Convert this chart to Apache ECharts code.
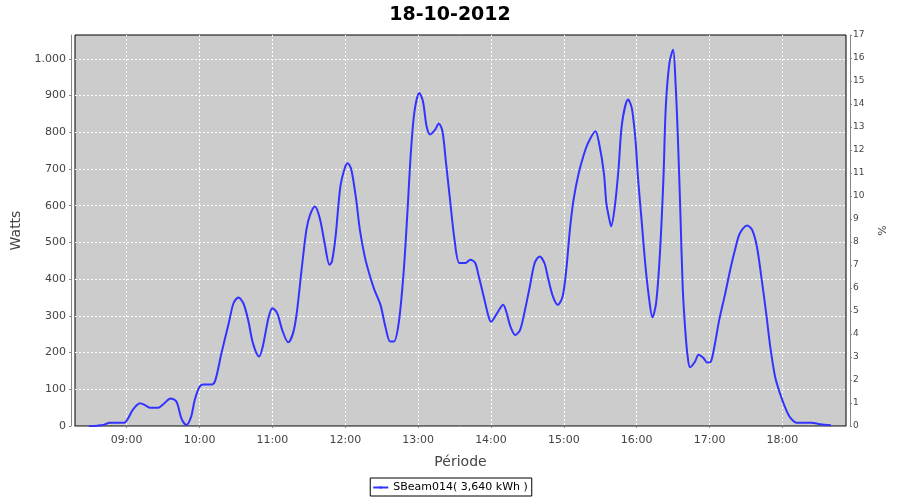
<!DOCTYPE html>
<html>
<head>
<meta charset="utf-8">
<script src="https://cdn.jsdelivr.net/npm/echarts@6/dist/echarts.min.js"></script>
<style>
html,body{margin:0;padding:0;background:#fff;}
#c{width:900px;height:500px;}
</style>
</head>
<body>
<div id="c"></div>
<script>
const titleText = '18-10-2012';
const seriesName = 'SBeam014( 3,640 kWh )';
const times = ['08:29','08:36','08:41','08:46','08:52','08:58','09:01','09:05','09:11','09:15','09:19','09:26','09:31','09:36','09:41','09:45','09:49','09:53','09:56','10:00','10:03','10:10','10:13','10:18','10:24','10:28','10:32','10:36','10:40','10:44','10:49','10:52','10:57','11:00','11:04','11:08','11:13','11:17','11:20','11:24','11:28','11:31','11:35','11:39','11:43','11:47','11:49','11:52','11:56','12:00','12:02','12:05','12:09','12:12','12:16','12:20','12:24','12:29','12:33','12:37','12:40','12:44','12:48','12:51','12:54','12:57','13:01','13:04','13:07','13:10','13:14','13:17','13:20','13:23','13:26','13:30','13:34','13:39','13:43','13:47','13:50','13:54','13:58','14:00','14:05','14:10','14:13','14:16','14:20','14:24','14:28','14:32','14:36','14:40','14:44','14:47','14:51','14:55','14:59','15:02','15:05','15:08','15:12','15:16','15:20','15:26','15:29','15:33','15:35','15:37','15:39','15:42','15:45','15:48','15:53','15:56','15:59','16:01','16:04','16:07','16:10','16:13','16:16','16:19','16:22','16:24','16:27','16:30','16:32','16:34','16:36','16:38','16:40','16:42','16:44','16:48','16:51','16:55','16:58','17:01','17:04','17:08','17:13','17:17','17:21','17:25','17:31','17:35','17:39','17:43','17:47','17:50','17:54','17:58','18:02','18:06','18:12','18:24','18:31','18:40'];
const watts = [0,1,3,9,9,9,20,44,62,57,50,50,62,75,66,21,3,25,71,107,113,113,125,198,280,335,350,335,289,225,189,216,298,321,307,262,228,253,307,425,535,575,598,566,498,439,448,516,653,707,716,698,616,535,462,412,371,330,271,230,230,280,416,571,744,857,907,884,816,794,807,824,803,716,625,507,444,444,453,444,407,353,298,284,307,330,307,271,248,262,316,380,444,462,444,403,353,330,353,425,535,616,685,734,771,803,771,689,607,571,544,598,698,826,889,866,780,680,562,444,353,296,335,462,671,871,989,1025,935,780,580,371,262,189,160,175,194,185,173,175,216,289,362,425,480,525,546,535,489,398,298,216,134,89,53,25,9,9,5,2];
const hourTicks = ['09:00','10:00','11:00','12:00','13:00','14:00','15:00','16:00','17:00','18:00'];
const wattTicks = [0,100,200,300,400,500,600,700,800,900,1000];
const axisStart = '08:17.4';
const axisEnd = '18:52.4';

function toMin(s){ const p = s.split(':'); return parseInt(p[0],10)*60 + parseFloat(p[1]); }
function fmtMin(v){ const h = Math.floor(v/60), m = Math.round(v - h*60); return (h<10?'0':'')+h+':'+(m<10?'0':'')+m; }
function fmtWatt(v){ return v>=1000 ? Math.floor(v/1000)+'.'+String(v%1000).padStart(3,'0') : String(v); }
const data = times.map((t,i)=>[toMin(t), watts[i]]);
const hourVals = hourTicks.map(toMin);

const FONT = 'DejaVu Sans';
const chart = echarts.init(document.getElementById('c'), null, {renderer:'canvas'});
chart.setOption({
  animation:false,
  backgroundColor:'#ffffff',
  title:{ text:titleText, left:'center', top:1, textStyle:{ fontFamily:FONT, fontSize:19, fontWeight:'bold', color:'#000' } },
  grid:{ left:75, right:54, top:35, bottom:74, show:true, backgroundColor:'#cccccc', borderColor:'#000000', borderWidth:1, containLabel:false },
  legend:{ data:[seriesName], left:'center', top:478, orient:'horizontal', borderColor:'#000', borderWidth:1, borderRadius:0, padding:[4,4,3,2], itemWidth:15, itemHeight:3, itemGap:5, textStyle:{ fontFamily:FONT, fontSize:11, color:'#000' } },
  xAxis:{ type:'value', min:toMin(axisStart), max:toMin(axisEnd), offset:4,
    name:'Période', nameLocation:'middle', nameGap:25, nameTextStyle:{ fontFamily:FONT, fontSize:14, color:'#444' },
    axisLine:{ show:true, lineStyle:{ color:'#888', width:1 } },
    axisTick:{ show:true, length:2, customValues:hourVals, lineStyle:{ color:'#888' } },
    axisLabel:{ customValues:hourVals, formatter:v=>fmtMin(v), fontFamily:FONT, fontSize:11, color:'#444', margin:5 },
    splitLine:{ show:true, lineStyle:{ color:'#ffffff', type:[2,2], width:1 } }
  },
  yAxis:[
    { type:'value', min:0, max:1065, interval:100, position:'left', offset:4,
      name:'Watts', nameLocation:'middle', nameGap:46, nameRotate:90, nameTextStyle:{ fontFamily:FONT, fontSize:14, color:'#444' },
      axisLine:{ show:true, lineStyle:{ color:'#888', width:1 } },
      axisTick:{ show:true, length:2, customValues:wattTicks, lineStyle:{ color:'#888' } },
      axisLabel:{ customValues:wattTicks, fontFamily:FONT, fontSize:11, color:'#444', margin:5, formatter:v=>fmtWatt(v) },
      splitLine:{ show:true, lineStyle:{ color:'#ffffff', type:[2,2], width:1 } }
    },
    { type:'value', min:0, max:17, interval:1, position:'right', offset:4,
      name:'%', nameLocation:'middle', nameGap:28, nameRotate:90, nameTextStyle:{ fontFamily:FONT, fontSize:11, color:'#444' },
      axisLine:{ show:true, lineStyle:{ color:'#888', width:1 } },
      axisTick:{ show:true, length:2, lineStyle:{ color:'#888' } },
      axisLabel:{ fontFamily:FONT, fontSize:9, color:'#444', margin:3 },
      splitLine:{ show:false }
    }
  ],
  series:[{ name:seriesName, type:'line', data:data, yAxisIndex:0, showSymbol:false, symbol:'none', smooth:0.3,
    lineStyle:{ color:'#3333ff', width:2 }, itemStyle:{ color:'#3333ff' } }]
});
</script>
</body>
</html>
